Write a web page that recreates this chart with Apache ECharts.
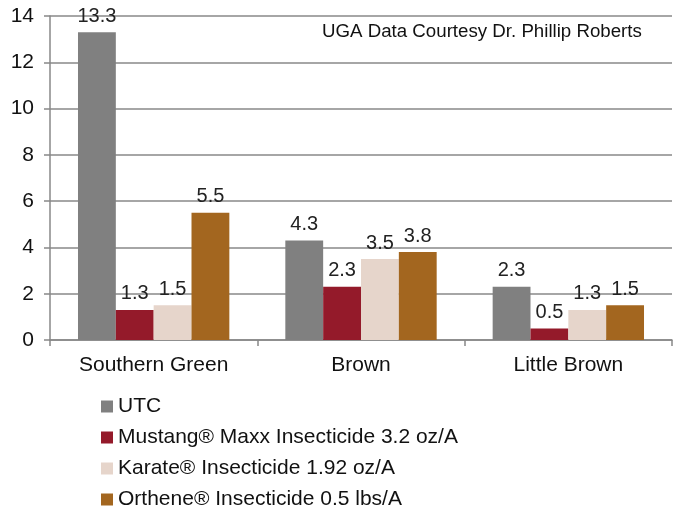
<!DOCTYPE html>
<html>
<head>
<meta charset="utf-8">
<script src="https://cdn.jsdelivr.net/npm/echarts@6/dist/echarts.min.js"></script>
<style>
  html, body { margin: 0; padding: 0; background: #ffffff; }
  #chart { width: 676px; height: 519px; }
</style>
</head>
<body>
<div id="chart"></div>
<script>
const categories = ['Southern Green', 'Brown', 'Little Brown']
const seriesNames = [
  'UTC',
  'Mustang® Maxx Insecticide 3.2 oz/A',
  'Karate® Insecticide 1.92 oz/A',
  'Orthene® Insecticide 0.5 lbs/A'
]
const utc = [13.3, 4.3, 2.3]
const mustang = [1.3, 2.3, 0.5]
const karate = [1.5, 3.5, 1.3]
const orthene = [5.5, 3.8, 1.5]
const colors = ['#808080', '#941a2a', '#e6d5cb', '#a3661f']

const font = 'Arial, "Liberation Sans", sans-serif'
const allData = [utc, mustang, karate, orthene]

const series = allData.map((d, i) => ({
  name: seriesNames[i],
  type: 'bar',
  data: d,
  barGap: '0%',
  barCategoryGap: '27%',
  itemStyle: { color: colors[i] },
  label: {
    show: true,
    position: 'top',
    distance: 6,
    fontSize: 20,
    fontFamily: font,
    color: '#222'
  }
}))

const chart = echarts.init(document.getElementById('chart'))
chart.setOption({
  animation: false,
  color: colors,
  title: {
    text: 'UGA Data Courtesy Dr. Phillip Roberts',
    left: 322,
    top: 22,
    padding: 0,
    textStyle: {
      fontFamily: font,
      fontWeight: 'normal',
      fontSize: 18.7,
      color: '#111'
    }
  },
  legend: {
    orient: 'vertical',
    left: 101,
    top: 396,
    padding: 0,
    itemWidth: 12,
    itemHeight: 12,
    itemGap: 10,
    icon: 'rect',
    textStyle: { fontFamily: font, fontSize: 21, color: '#111' },
    data: seriesNames
  },
  grid: { left: 50, right: 4, top: 16, bottom: 179 },
  xAxis: {
    type: 'category',
    data: categories,
    axisLine: { lineStyle: { color: '#888', width: 1.5 } },
    axisTick: { show: true, length: 6, lineStyle: { color: '#888', width: 1.5 } },
    axisLabel: { fontFamily: font, fontSize: 21, color: '#111', margin: 15 }
  },
  yAxis: {
    type: 'value',
    min: 0,
    max: 14,
    interval: 2,
    axisLine: { show: true, lineStyle: { color: '#888', width: 1.5 } },
    axisTick: { show: true, length: 6, lineStyle: { color: '#888', width: 1.5 } },
    splitLine: { lineStyle: { color: '#888', width: 1.5 } },
    axisLabel: { fontFamily: font, fontSize: 21, color: '#111', margin: 16 }
  },
  series: series
})
</script>
</body>
</html>
